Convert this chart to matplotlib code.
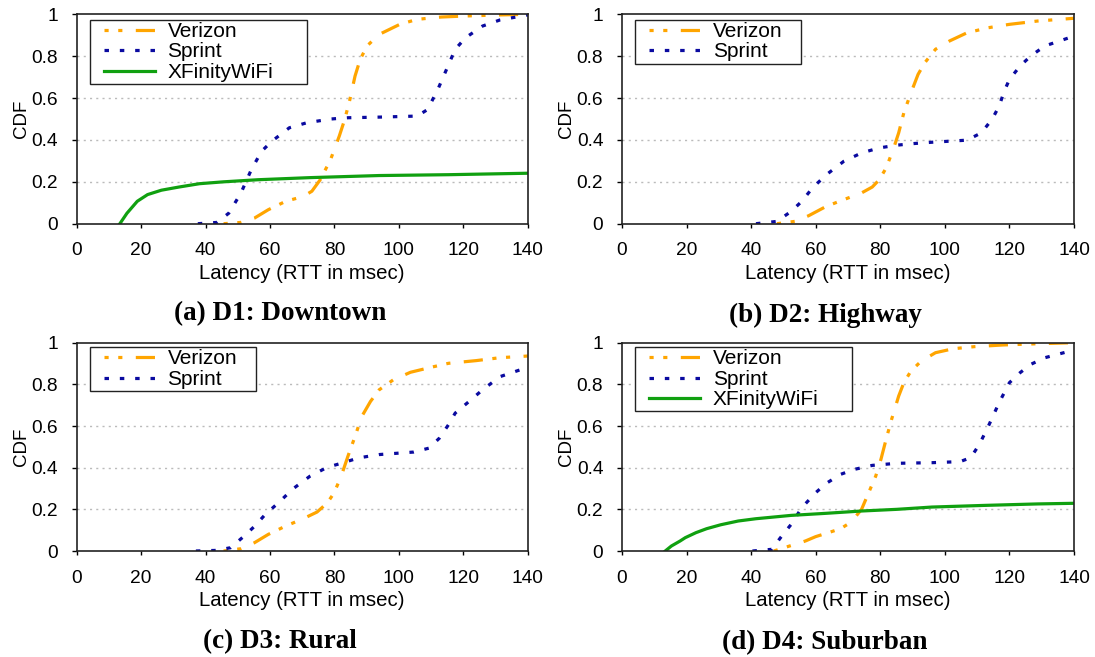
import matplotlib
matplotlib.use("Agg")
import matplotlib.pyplot as plt
from matplotlib.legend_handler import HandlerLine2D
import numpy as np

# ---------------- data ----------------
# Panel (a) D1: Downtown
a_verizon_x = [45.6, 50.9, 55.2, 59.5, 64.9, 70.3, 73.0, 75.6, 78.8, 81.5, 83.2, 84.8, 86.4, 88.0, 90.2, 93.9, 100.3, 105.7, 113.2, 120.7, 131.4, 140]
a_verizon_y = [0, 0.006, 0.027, 0.067, 0.107, 0.13, 0.155, 0.21, 0.306, 0.418, 0.498, 0.593, 0.705, 0.785, 0.85, 0.904, 0.952, 0.976, 0.987, 0.992, 0.997, 1.0]
a_sprint_x = [37.6, 43.5, 47.2, 51.0, 54.2, 57.4, 60.6, 66.0, 71.4, 78.9, 84.2, 93.9, 105.7, 108.9, 112.1, 114.8, 117.5, 120.7, 126.0, 131.4, 140]
a_sprint_y = [0, 0.006, 0.05, 0.147, 0.258, 0.346, 0.394, 0.458, 0.482, 0.5, 0.506, 0.509, 0.514, 0.545, 0.641, 0.737, 0.833, 0.888, 0.944, 0.973, 0.997]
a_xfinity_x = [13.4, 15.6, 18.8, 22.0, 26.3, 31.7, 38.1, 45.6, 56.3, 72.4, 93.9, 115.4, 140]
a_xfinity_y = [0, 0.05, 0.107, 0.139, 0.16, 0.175, 0.191, 0.2, 0.21, 0.22, 0.23, 0.234, 0.241]

# Panel (b) D2: Highway
b_verizon_x = [48.0, 53.5, 57.8, 63.3, 68.7, 74.2, 77.5, 79.7, 81.8, 84.0, 85.7, 87.3, 89.5, 91.7, 93.8, 97.1, 101.5, 106.9, 113.5, 120.0, 128.8, 140]
b_verizon_y = [0, 0.011, 0.038, 0.083, 0.115, 0.147, 0.175, 0.21, 0.266, 0.354, 0.434, 0.53, 0.625, 0.713, 0.769, 0.833, 0.873, 0.912, 0.936, 0.952, 0.968, 0.981]
b_sprint_x = [41.5, 48.0, 52.4, 55.7, 59.0, 63.3, 68.7, 74.2, 79.7, 85.1, 90.6, 96.0, 106.9, 111.3, 114.6, 116.8, 118.4, 120.0, 123.3, 126.6, 131.0, 140]
b_sprint_y = [0, 0.011, 0.059, 0.107, 0.171, 0.234, 0.298, 0.338, 0.362, 0.375, 0.383, 0.389, 0.399, 0.434, 0.498, 0.561, 0.633, 0.689, 0.753, 0.801, 0.849, 0.896]

# Panel (c) D3: Rural
c_verizon_x = [45.6, 51.0, 55.2, 59.5, 64.9, 70.3, 74.6, 77.8, 79.9, 82.1, 84.2, 86.4, 88.5, 91.2, 93.9, 98.2, 103.6, 110.0, 115.4, 124.0, 131.4, 140]
c_verizon_y = [0, 0.011, 0.04, 0.08, 0.12, 0.155, 0.187, 0.231, 0.279, 0.359, 0.455, 0.55, 0.646, 0.718, 0.774, 0.821, 0.858, 0.882, 0.901, 0.914, 0.928, 0.936]
c_sprint_x = [37.0, 43.5, 47.8, 52.0, 55.3, 58.5, 62.8, 67.1, 72.4, 77.8, 83.2, 87.5, 93.9, 104.6, 109.4, 112.6, 115.4, 117.5, 121.8, 126.0, 131.4, 140]
c_sprint_y = [0, 0.003, 0.016, 0.072, 0.12, 0.175, 0.234, 0.298, 0.359, 0.402, 0.426, 0.447, 0.463, 0.475, 0.494, 0.542, 0.606, 0.662, 0.718, 0.774, 0.837, 0.882]

# Panel (d) D4: Suburban
d_verizon_x = [47.0, 51.3, 56.8, 60.0, 63.3, 67.7, 71.0, 74.2, 76.4, 78.6, 80.2, 81.8, 83.5, 85.7, 87.3, 89.5, 92.7, 97.1, 102.6, 109.1, 117.9, 128.8, 140]
d_verizon_y = [0, 0.021, 0.048, 0.069, 0.085, 0.107, 0.139, 0.2, 0.28, 0.36, 0.44, 0.536, 0.632, 0.744, 0.808, 0.864, 0.912, 0.952, 0.971, 0.981, 0.989, 0.995, 1.0]
d_sprint_x = [40.4, 46.4, 49.1, 52.4, 55.7, 60.0, 63.3, 67.7, 72.0, 77.5, 85.1, 96.0, 104.7, 108.0, 110.7, 113.5, 116.8, 120.0, 123.3, 126.6, 131.0, 140]
d_sprint_y = [0, 0.008, 0.064, 0.128, 0.208, 0.28, 0.325, 0.368, 0.392, 0.411, 0.421, 0.424, 0.429, 0.448, 0.512, 0.6, 0.712, 0.808, 0.856, 0.896, 0.928, 0.965]
d_xfinity_x = [13.4, 15.3, 18.0, 19.6, 22.9, 26.2, 30.6, 36.0, 41.5, 52.4, 63.3, 74.2, 85.1, 96.0, 112.4, 128.8, 140]
d_xfinity_y = [0, 0.024, 0.048, 0.064, 0.088, 0.107, 0.126, 0.144, 0.155, 0.171, 0.181, 0.192, 0.2, 0.211, 0.219, 0.226, 0.229]

captions = ["(a) D1: Downtown", "(b) D2: Highway", "(c) D3: Rural", "(d) D4: Suburban"]
x_ticks = [0, 20, 40, 60, 80, 100, 120, 140]
y_ticks = [0, 0.2, 0.4, 0.6, 0.8, 1]
y_ticklabels = ["0", "0.2", "0.4", "0.6", "0.8", "1"]
x_label = "Latency (RTT in msec)"
y_label = "CDF"

panels = [
    [("Verizon", a_verizon_x, a_verizon_y), ("Sprint", a_sprint_x, a_sprint_y), ("XFinityWiFi", a_xfinity_x, a_xfinity_y)],
    [("Verizon", b_verizon_x, b_verizon_y), ("Sprint", b_sprint_x, b_sprint_y)],
    [("Verizon", c_verizon_x, c_verizon_y), ("Sprint", c_sprint_x, c_sprint_y)],
    [("Verizon", d_verizon_x, d_verizon_y), ("Sprint", d_sprint_x, d_sprint_y), ("XFinityWiFi", d_xfinity_x, d_xfinity_y)],
]

# ---------------- styles ----------------
styles = {
    "Verizon": dict(color="#FFA500", lw=2.3, linestyle=(0, (1.3, 3.0, 1.3, 4.2, 6.0, 3.0))),
    "Sprint": dict(color="#0a0aa0", lw=2.3, linestyle=(0, (1.4, 3.4))),
    "XFinityWiFi": dict(color="#10a010", lw=2.3, linestyle="-"),
}


class LeadHandler(HandlerLine2D):
    """Line sample drawn with some empty space before it (gnuplot-like key)."""
    def get_xdata(self, legend, xdescent, ydescent, width, height, fontsize):
        lead = 0.19 * width
        x = np.array([-xdescent + lead, -xdescent + width])
        return x, x


plt.rcParams['font.family'] = ['Liberation Sans', 'DejaVu Sans']

W, H = 1095, 657
fig = plt.figure(figsize=(W / 100, H / 100), dpi=100)

# axes pixel boxes: left, right, top, bottom
boxes = [
    (76.7, 527.7, 14.3, 223.7),
    (622.0, 1074.0, 14.3, 223.7),
    (76.7, 527.7, 342.7, 551.0),
    (622.0, 1074.0, 342.7, 551.0),
]
legend_w = [0.481, 0.368, 0.368, 0.481]
legend_top = [0.973, 0.973, 0.978, 0.978]
cap_pos = [(280, 314), (825, 315), (280, 642), (825, 643)]

TICK_FS = 13.8
XL_FS = 14.7
YL_FS = 13.5
LEG_FS = 15
for i, (series, (l, r, t, b)) in enumerate(zip(panels, boxes)):
    ax = fig.add_axes([l / W, 1 - b / H, (r - l) / W, (b - t) / H])
    for name, xs, ys in series:
        ax.plot(xs, ys, label=name, **styles[name])
    ax.set_xlim(0, 140)
    ax.set_ylim(0, 1)
    ax.set_xticks(x_ticks)
    ax.set_yticks(y_ticks)
    ax.set_yticklabels(y_ticklabels)
    ax.tick_params(axis='both', labelsize=TICK_FS, direction='out', width=1, colors='black')
    ax.tick_params(axis='x', pad=10.5, length=3)
    ax.tick_params(axis='y', pad=10, length=3.5)
    for s in ax.spines.values():
        s.set_linewidth(1.2)
        s.set_color('#222222')
    for yv in [0.2, 0.4, 0.6, 0.8]:
        ax.axhline(yv, color='#bbbbbb', lw=1.0, linestyle=(0, (1.5, 3)), zorder=0)
    ax.set_xlabel(x_label, fontsize=XL_FS, labelpad=3)
    ax.set_ylabel(y_label, fontsize=YL_FS, labelpad=1)
    handler = LeadHandler()
    leg = ax.legend(loc='upper left', bbox_to_anchor=(0.0286, 0, legend_w[i], legend_top[i]),
                    mode='expand', fontsize=LEG_FS,
                    handlelength=3.04, handletextpad=0.6, labelspacing=0.07,
                    borderpad=0.1, borderaxespad=0.0, fancybox=False, framealpha=1,
                    handler_map={plt.Line2D: handler})
    leg.get_frame().set_edgecolor('#222222')
    leg.get_frame().set_linewidth(1.0)
    cx, cy = cap_pos[i]
    fig.text(cx / W, 1 - cy / H, captions[i], ha='center', va='center',
             fontsize=19.5, fontweight='bold', family=['Liberation Serif', 'DejaVu Serif'])

fig.savefig("out.png", dpi=100)
